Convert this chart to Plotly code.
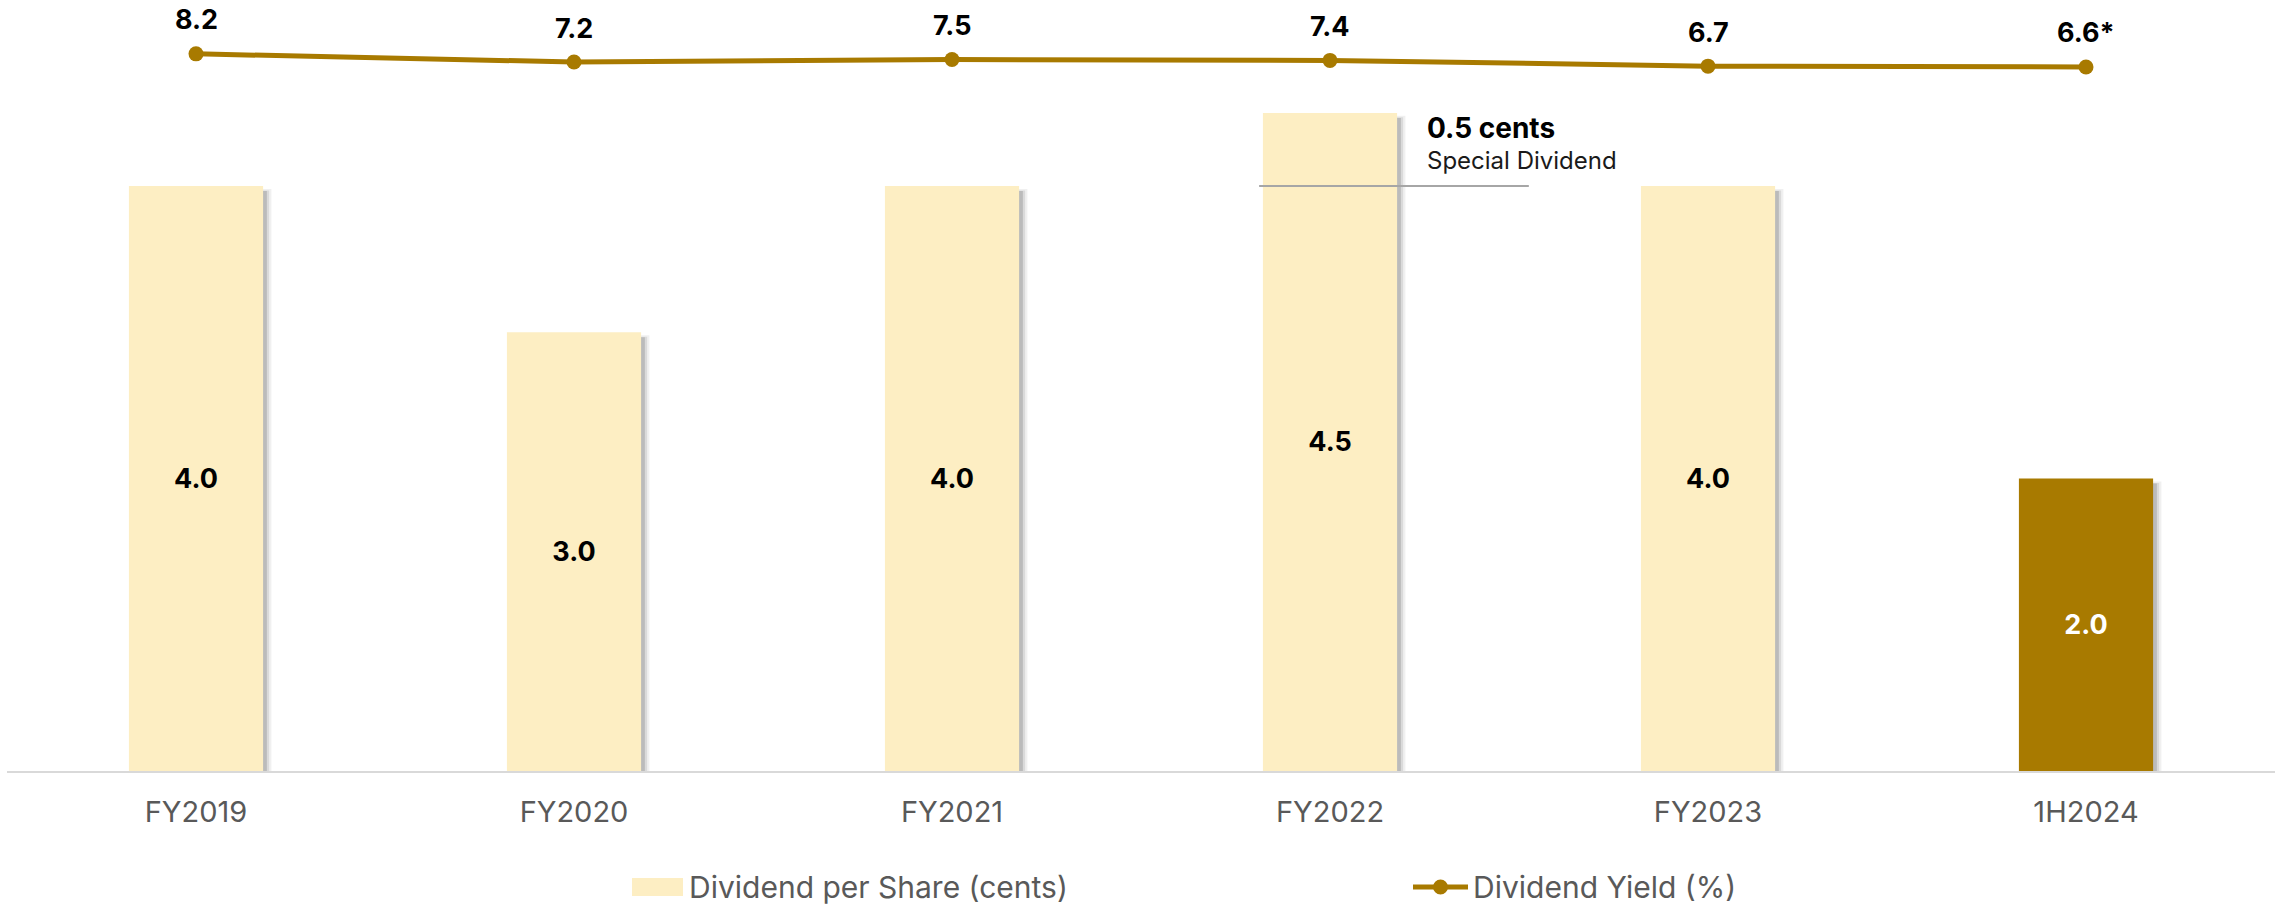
import plotly.graph_objects as go

# ---- data ----
categories = ["FY2019", "FY2020", "FY2021", "FY2022", "FY2023", "1H2024"]
dps_cents = [4.0, 3.0, 4.0, 4.5, 4.0, 2.0]
yield_pct = [8.2, 7.2, 7.5, 7.4, 6.7, 6.6]
yield_labels = ["8.2", "7.2", "7.5", "7.4", "6.7", "6.6*"]
special_base = 4.0          # ordinary dividend level for FY2022 (special 0.5 on top)
special_idx = 3
special_title = "0.5 cents"
special_sub = "Special Dividend"

# ---- layout constants (page pixels; body margin removed by post_script) ----
OFF = 0
W, H = 2279, 908
ML, MR, MT, MB = 7, 4, 20, 137
PW, PH = W - ML - MR, H - MT - MB
FONT = "Inter, 'Noto Sans', sans-serif"
CREAM = "#FDEEC3"
GOLD = "#A87A00"
GRAY_TXT = "#595959"
BAR_W = 0.355
PX_PER_CAT = 378.0
FIRST_CAT_PX = 196.0
PX_PER_CENT = 146.25
PX_PER_PCT = 8.19
Y2_ZERO_PX = 121  # page row where yield 0 would be

xr0 = -(FIRST_CAT_PX - OFF - ML) / PX_PER_CAT
x_range = [xr0, xr0 + PW / PX_PER_CAT]
y1_range = [0, PH / PX_PER_CENT]
base_page = OFF + MT + PH
r0 = -(base_page - Y2_ZERO_PX) / PX_PER_PCT
y2_range = [r0, r0 + PH / PX_PER_PCT]


def px_x(px):
    return (px - OFF - ML) / PW


def px_y(py):
    return (base_page - py) / PH


bar_colors = [CREAM] * (len(categories) - 1) + [GOLD]
text_colors = ["black"] * (len(categories) - 1) + ["white"]

fig = go.Figure()

# soft drop shadows (behind the bars)
for dx, dy, alpha in [(0.022, 0.02, 0.06), (0.016, 0.03, 0.09), (0.010, 0.035, 0.14)]:
    fig.add_trace(go.Bar(
        x=categories, y=[v - dy for v in dps_cents], width=BAR_W,
        offset=-BAR_W / 2 + dx, marker=dict(color=f"rgba(0,0,0,{alpha})", line_width=0),
        hoverinfo="skip", showlegend=False,
    ))

fig.add_trace(go.Bar(
    x=categories, y=dps_cents, width=BAR_W, offset=-BAR_W / 2,
    marker=dict(color=bar_colors, line_width=0),
    texttemplate="%{y:.1f}", textposition="inside", insidetextanchor="middle",
    textfont=dict(family=FONT, size=27, color=text_colors, weight="bold"),
    textangle=0, name="Dividend per Share (cents)", showlegend=False,
))

fig.add_trace(go.Scatter(
    x=categories, y=yield_pct, yaxis="y2", mode="lines+markers",
    line=dict(color=GOLD, width=5), marker=dict(color=GOLD, size=15),
    name="Dividend Yield (%)", showlegend=False,
))

annotations = []
for c, v, t in zip(categories, yield_pct, yield_labels):
    annotations.append(dict(x=c, y=v, xref="x", yref="y2", text=t, showarrow=False,
                            yshift=34, font=dict(family=FONT, size=27, color="black", weight="bold")))

# special dividend annotation
sx = special_idx
annotations.append(dict(x=sx + 0.25, y=px_y(128), xref="x", yref="paper", text=special_title,
                        showarrow=False, xanchor="left", yanchor="middle",
                        font=dict(family=FONT, size=28, color="black", weight="bold")))
annotations.append(dict(x=sx + 0.25, y=px_y(160), xref="x", yref="paper", text=special_sub,
                        showarrow=False, xanchor="left", yanchor="middle",
                        font=dict(family=FONT, size=24, color="#1a1a1a")))

shapes = [dict(type="line", xref="x", yref="y", x0=sx - BAR_W / 2 - 0.01, x1=sx + 0.526,
               y0=special_base, y1=special_base, line=dict(color="#A6A6A6", width=2), layer="above")]

# manual legend
LY = 887
shapes.append(dict(type="rect", xref="paper", yref="paper", x0=px_x(632), x1=px_x(683),
                   y0=px_y(896), y1=px_y(878), fillcolor=CREAM, line_width=0))
annotations.append(dict(x=px_x(687), y=px_y(LY), xref="paper", yref="paper",
                        text="Dividend per Share (cents)", showarrow=False, xanchor="left",
                        yanchor="middle", font=dict(family=FONT, size=30, color=GRAY_TXT)))
shapes.append(dict(type="line", xref="paper", yref="paper", x0=px_x(1413), x1=px_x(1468),
                   y0=px_y(LY), y1=px_y(LY), line=dict(color=GOLD, width=5)))
shapes.append(dict(type="circle", xref="paper", yref="paper", x0=px_x(1433), x1=px_x(1448),
                   y0=px_y(LY + 7.5), y1=px_y(LY - 7.5), fillcolor=GOLD, line_width=0))
annotations.append(dict(x=px_x(1471), y=px_y(LY), xref="paper", yref="paper",
                        text="Dividend Yield (%)", showarrow=False, xanchor="left",
                        yanchor="middle", font=dict(family=FONT, size=30, color=GRAY_TXT)))

fig.update_layout(
    width=W, height=H, margin=dict(l=ML, r=MR, t=MT, b=MB),
    paper_bgcolor="white", plot_bgcolor="white", barmode="overlay",
    showlegend=False, annotations=annotations, shapes=shapes,
    font=dict(family=FONT), hovermode=False,
    xaxis=dict(type="category", range=x_range, showgrid=False,
               showline=True, linecolor="#D9D9D9", linewidth=2, ticks="",
               ticklabelstandoff=14, tickfont=dict(family=FONT, size=29, color=GRAY_TXT),
               zeroline=False),
    yaxis=dict(range=y1_range, visible=False, showgrid=False, zeroline=False),
    yaxis2=dict(range=y2_range, overlaying="y", visible=False, showgrid=False, zeroline=False),
)

fig.write_html("out.html", config={"displayModeBar": False},
               post_script="document.body.style.margin='0';document.body.style.overflow='hidden';")
